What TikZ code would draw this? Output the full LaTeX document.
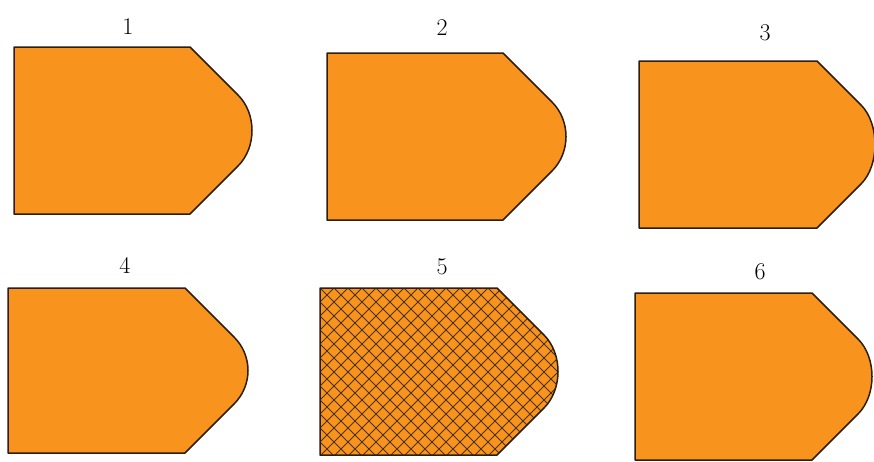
\documentclass[tikz,border=0pt]{standalone}
\definecolor{tabfill}{RGB}{248,147,30}
\definecolor{tabline}{RGB}{45,30,15}
% #1 left, #2 top, #3 bottom, #4 corner x, #5 apex x
\newcommand\tabpath[5]{(#1,#2) -- (#4,#2) -- ({#5-14},{#2+#5-14-#4}) .. controls ({#5+4.67},{#2+#5+4.67-#4}) and ({#5+4.67},{#3-#5-4.67+#4}) .. ({#5-14},{#3-#5+14+#4}) -- (#4,#3) -- (#1,#3) -- cycle}
\tikzset{
  tabshape/.style={fill=tabfill, draw=tabline, line width=1.5pt, line join=round},
  hatch/.style={draw=tabline!85!tabfill, line width=1.0pt},
  numlabel/.style={font=\fontsize{24}{26}\selectfont, inner sep=0pt}
}
\begin{document}
\begin{tikzpicture}[x=1pt,y=-1pt]
\clip (0,0) rectangle (874,461);
\fill[white] (0,0) rectangle (874,461);
% shapes
\draw[tabshape] \tabpath{14}{47}{214}{190}{252};
\draw[tabshape] \tabpath{327}{53}{220}{503}{566};
\draw[tabshape] \tabpath{639}{61}{228}{817}{875};
\draw[tabshape] \tabpath{8}{288}{453}{185}{248};
\fill[tabfill] \tabpath{320}{288}{455}{497}{558};
\begin{scope}
  \clip \tabpath{320}{288}{455}{497}{558};
  \foreach \i in {-224,-210,...,476} {
    \draw[hatch] (320+\i,288) -- ++(200,200);
    \draw[hatch] (320+\i,288) -- ++(-200,200);
  }
\end{scope}
\draw[tabshape, fill=none] \tabpath{320}{288}{455}{497}{558};
\draw[tabshape] \tabpath{635}{293}{460}{812}{872};
% labels
\node[numlabel] (l1) at (128,27) {1};
\node[numlabel] (l2) at (442,28) {2};
\node[numlabel] (l3) at (765,33) {3};
\node[numlabel] (l4) at (125,265) {4};
\node[numlabel] (l5) at (442,267) {5};
\node[numlabel] (l6) at (760,272) {6};
\end{tikzpicture}
\end{document}
